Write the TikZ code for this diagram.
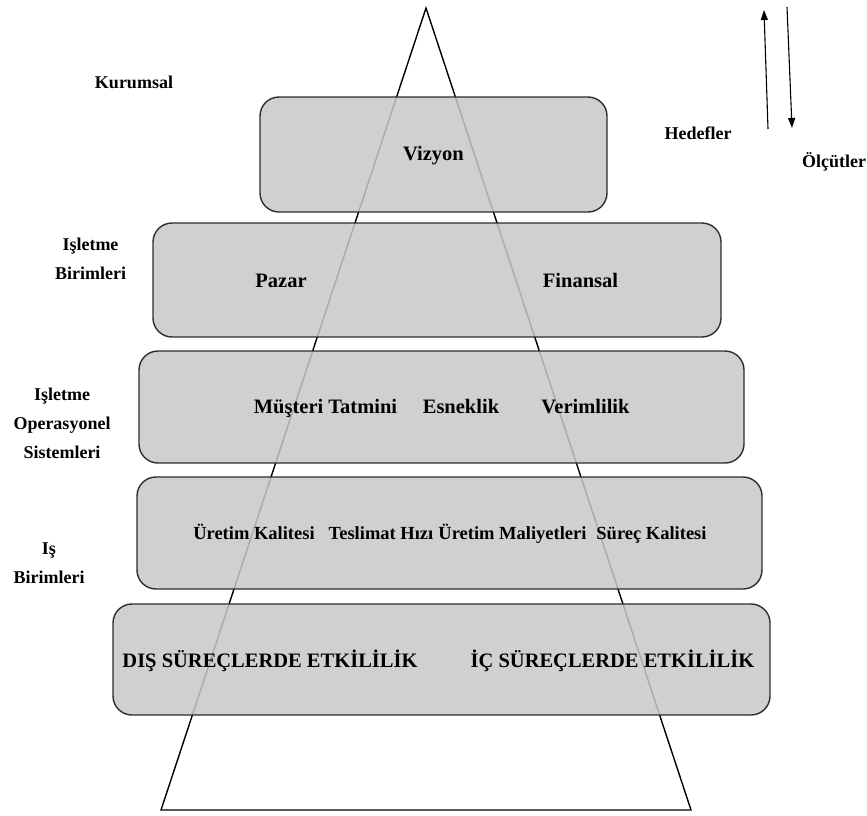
\documentclass[tikz,border=0pt]{standalone}
\usepackage{fontspec}
\setmainfont{Liberation Serif}
\usetikzlibrary{arrows.meta}
\definecolor{boxfill}{RGB}{200,200,200}
\definecolor{boxline}{RGB}{45,45,45}
\begin{document}
\begin{tikzpicture}[x=1pt,y=-1pt,
  tier/.style={draw=boxline, line width=1.4pt, rounded corners=19pt, fill=boxfill,
    fill opacity=0.85, inner sep=0pt, outer sep=0pt},
  boxtext/.style={font=\bfseries\fontsize{20.5}{24}\selectfont, inner sep=0pt, anchor=base},
  smalltext/.style={font=\bfseries\fontsize{18.5}{22}\selectfont, inner sep=0pt, anchor=base},
  sidelabel/.style={font=\bfseries\fontsize{18}{29}\selectfont, align=center, inner sep=0pt},
  flow/.style={line width=1.1pt, -{Triangle[length=10pt,width=7pt]}}]
\useasboundingbox (0,0) rectangle (867,815);

% pyramid behind the tiers
\coordinate (apex) at (426,8);
\coordinate (baseL) at (161,810);
\coordinate (baseR) at (691,810);
\draw[line width=1.4pt, line join=miter] (apex) -- (baseL) -- (baseR) -- cycle;

% tiers
\node[tier, minimum width=347pt, minimum height=115pt] (t1) at (433.5,154.5) {};
\node[tier, minimum width=568pt, minimum height=114pt] (t2) at (437,280) {};
\node[tier, minimum width=605pt, minimum height=112pt] (t3) at (441.5,407) {};
\node[tier, minimum width=625pt, minimum height=112pt] (t4) at (449.5,533) {};
\node[tier, minimum width=657pt, minimum height=111pt] (t5) at (441.5,659.5) {};

% tier contents (placed on their baselines)
\node[boxtext] (vizyon) at (433.5,160) {Vizyon};
\node[boxtext] (pazar) at (281,287) {Pazar};
\node[boxtext] (finansal) at (580.5,287) {Finansal};
\node[boxtext] (musteri) at (325.5,413) {Müşteri Tatmini};
\node[boxtext] (esneklik) at (461,413) {Esneklik};
\node[boxtext] (verimlilik) at (585.5,413) {Verimlilik};
\node[smalltext] (ukalite) at (254,539.5) {Üretim Kalitesi};
\node[smalltext] (teslimat) at (381,539.5) {Teslimat Hızı};
\node[smalltext] (maliyet) at (512.5,539.5) {Üretim Maliyetleri};
\node[smalltext] (skalite) at (651.5,539.5) {Süreç Kalitesi};
\node[boxtext] (dis) at (270,667) {DIŞ SÜREÇLERDE ETKİLİLİK};
\node[boxtext] (ic) at (612.5,667) {İÇ SÜREÇLERDE ETKİLİLİK};

% level labels
\node[sidelabel] (kurumsal) at (134,82) {Kurumsal};
\node[sidelabel] (isletme) at (90.5,259) {Işletme\\Birimleri};
\node[sidelabel] (operasyonel) at (62,423) {Işletme\\Operasyonel\\Sistemleri};
\node[sidelabel] (isbirim) at (49,563) {Iş\\Birimleri};

% goals and measures
\node[sidelabel] (hedefler) at (698,133) {Hedefler};
\node[sidelabel, anchor=west] (olcutler) at (802,162) {Ölçütler};
\coordinate (upS) at (768,129);
\coordinate (upE) at (764,10);
\coordinate (dnS) at (787,7);
\coordinate (dnE) at (792,128);
\draw[flow] (upS) -- (upE);
\draw[flow] (dnS) -- (dnE);
\end{tikzpicture}
\end{document}
